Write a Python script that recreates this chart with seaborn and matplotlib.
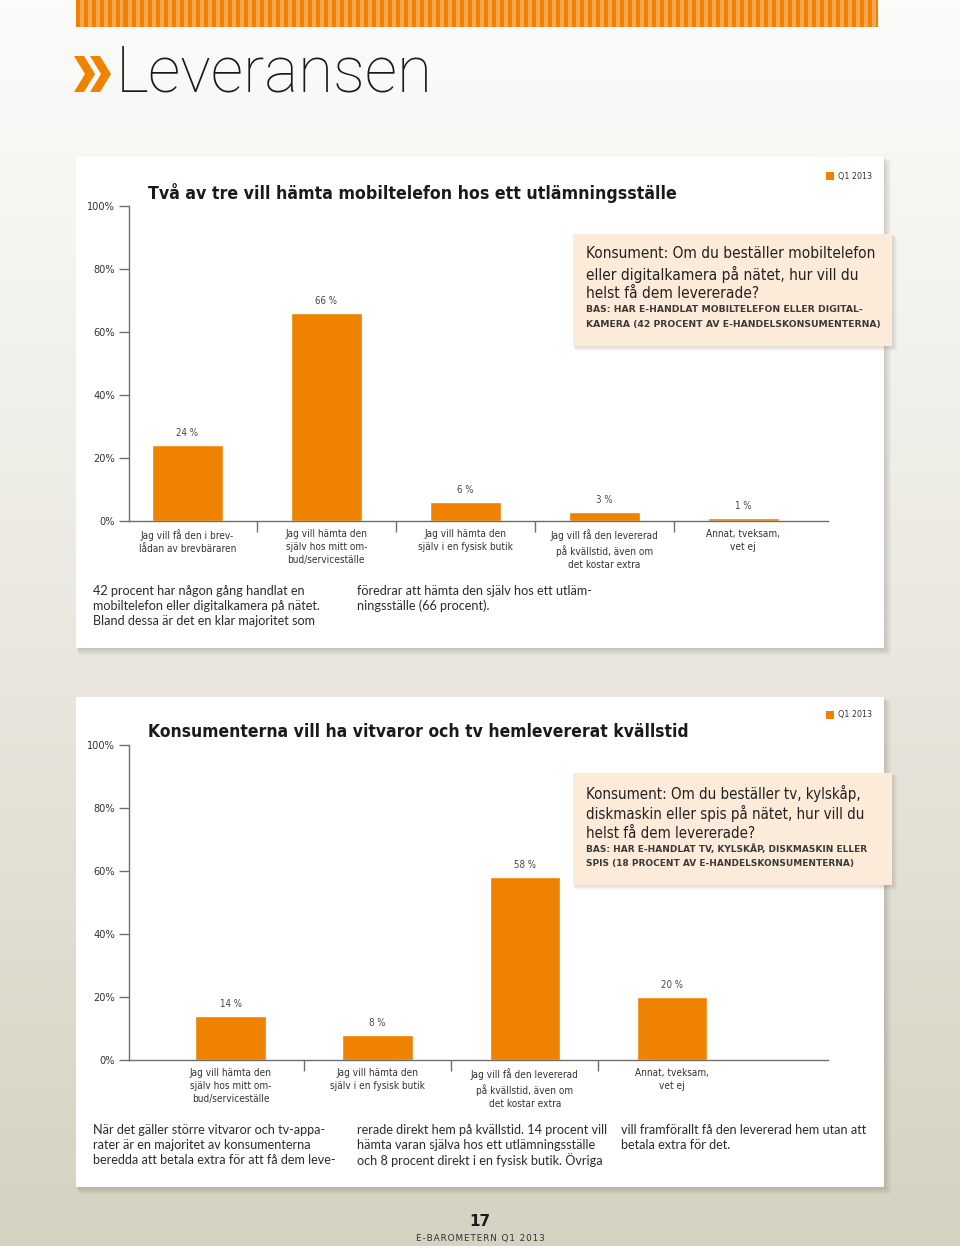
import numpy as np
import matplotlib
matplotlib.use("Agg")
import matplotlib.pyplot as plt
import seaborn as sns
from matplotlib import font_manager
from matplotlib.patches import Rectangle, Polygon

sns.set_theme(style="white")

# pick the narrowest font family that is installed
_fonts = font_manager.fontManager.ttflist
_names = {f.name for f in _fonts}
if 'Liberation Sans Narrow' in _names:
    NARROW, STRETCH = 'Liberation Sans Narrow', 'normal'
elif any(f.name == 'DejaVu Sans' and f.stretch == 'condensed' for f in _fonts):
    NARROW, STRETCH = 'DejaVu Sans', 'condensed'
else:
    NARROW, STRETCH = 'Roboto', 'normal'
plt.rcParams['font.family'] = [NARROW, 'DejaVu Sans']
plt.rcParams['font.stretch'] = STRETCH

# --- data -------------------------------------------------------------
cats1 = ["Jag vill få den i brev-\nlådan av brevbäraren",
         "Jag vill hämta den\nsjälv hos mitt om-\nbud/serviceställe",
         "Jag vill hämta den\nsjälv i en fysisk butik",
         "Jag vill få den levererad\npå kvällstid, även om\ndet kostar extra",
         "Annat, tveksam,\nvet ej"]
vals1 = [24, 66, 6, 3, 1]

cats2 = ["Jag vill hämta den\nsjälv hos mitt om-\nbud/serviceställe",
         "Jag vill hämta den\nsjälv i en fysisk butik",
         "Jag vill få den levererad\npå kvällstid, även om\ndet kostar extra",
         "Annat, tveksam,\nvet ej"]
vals2 = [14, 8, 58, 20]

yticks = [0, 20, 40, 60, 80, 100]
ytick_labels = [f"{t}%" for t in yticks]

title1 = "Två av tre vill hämta mobiltelefon hos ett utlämningsställe"
title2 = "Konsumenterna vill ha vitvaror och tv hemlevererat kvällstid"
question1 = ["Konsument: Om du beställer mobiltelefon",
             "eller digitalkamera på nätet, hur vill du",
             "helst få dem levererade?"]
bas1 = ["BAS: HAR E-HANDLAT MOBILTELEFON ELLER DIGITAL-",
        "KAMERA (42 PROCENT AV E-HANDELSKONSUMENTERNA)"]
question2 = ["Konsument: Om du beställer tv, kylskåp,",
             "diskmaskin eller spis på nätet, hur vill du",
             "helst få dem levererade?"]
bas2 = ["BAS: HAR E-HANDLAT TV, KYLSKÅP, DISKMASKIN ELLER",
        "SPIS (18 PROCENT AV E-HANDELSKONSUMENTERNA)"]
body1 = [["42 procent har någon gång handlat en",
          "mobiltelefon eller digitalkamera på nätet.",
          "Bland dessa är det en klar majoritet som"],
         ["föredrar att hämta den själv hos ett utläm-",
          "ningsställe (66 procent)."]]
body2 = [["När det gäller större vitvaror och tv-appa-",
          "rater är en majoritet av konsumenterna",
          "beredda att betala extra för att få dem leve-"],
         ["rerade direkt hem på kvällstid. 14 procent vill",
          "hämta varan själva hos ett utlämningsställe",
          "och 8 procent direkt i en fysisk butik. Övriga"],
         ["vill framförallt få den levererad hem utan att",
          "betala extra för det."]]

ORANGE = "#ef8200"
LIGHT_OR = "#f6a653"
AXIS = "#6e6e6e"
TXT = "#2b2b2b"

W, H = 960, 1246
fig = plt.figure(figsize=(W / 100, H / 100), dpi=100)
renderer = fig.canvas.get_renderer()


def fx(x):
    return x / W


def fy(y):
    return 1 - y / H


def size_for(s, width, **kw):
    # font size at which s is `width` pixels wide
    t = fig.text(0, 0, s, fontsize=10, **kw)
    w = t.get_window_extent(renderer).width
    t.remove()
    return 10 * width / w


def rect(x0, y0, x1, y1, **kw):
    fig.add_artist(Rectangle((fx(x0), fy(y1)), (x1 - x0) / W, (y1 - y0) / H,
                             transform=fig.transFigure, lw=0, zorder=-5, **kw))


def lines(x, y0, dy, rows, width, **kw):
    fs = size_for(rows[0], width, **kw)
    for i, s in enumerate(rows):
        fig.text(fx(x), fy(y0 + i * dy), s, va='center', fontsize=fs, **kw)


# background gradient
bg = fig.add_axes([0, 0, 1, 1], zorder=-10)
grad = np.linspace(0, 1, 256)[:, None]
top = np.array([251, 251, 250]) / 255
bot = np.array([214, 210, 193]) / 255
img = top + (bot - top) * grad[..., None] ** 1.1
bg.imshow(img, aspect='auto', extent=[0, 1, 0, 1])
bg.axis('off')

# stripe band at the top
rect(76, 0, 878, 27, color=ORANGE)
for x in np.arange(80, 876, 8):
    rect(x, 0, x + 3.5, 27, color=LIGHT_OR)

# page heading
for off in (0, 16):
    pts = [(74 + off, 56), (84 + off, 56), (95 + off, 74),
           (84 + off, 92), (74 + off, 92), (85 + off, 74)]
    fig.add_artist(Polygon([(fx(a), fy(b)) for a, b in pts], closed=True,
                           transform=fig.transFigure, color=ORANGE, lw=0))
fig.text(fx(116), fy(73), "Leveransen", va='center', ha='left',
         fontsize=size_for("Leveransen", 316, family='Roboto', fontweight=100,
                           fontstretch='normal'),
         family='Roboto', fontweight=100, fontstretch='normal', color='#1a1a1a')


def card(y0, y1):
    for i in range(1, 8):
        rect(76 + i * 0.4, y0 + i * 0.6, 884 + i, y1 + i, color='#5a574c', alpha=0.035)
    rect(76, y0, 884, y1, color='white')


def qbox(y0, y1, q, qw, bas):
    for i in range(1, 6):
        rect(573 + i * 0.4, y0 + i * 0.5, 892 + i, y1 + i, color='#5a574c', alpha=0.04)
    rect(573, y0, 892, y1, color='#fdebd9')
    lines(586, y0 + 20, 20, q, qw, color='#222222')
    lines(586, y0 + 76, 14.5, bas, 279, family='DejaVu Sans', fontstretch='normal',
          fontweight='semibold', color='#3a3a3a')


tick_fs = size_for("100%", 28)
cat_fs = size_for("Jag vill få den i brev-", 92)
val_fs = size_for("66 %", 22)
body_fs = size_for(body1[0][0], 211, family='Lato', fontstretch='normal')
cat_ls = 13.5 / (cat_fs * 100 / 72)


def chart(top_y, zero_y, cats, vals, xlim, width, title, tw, q, qw, bas, body):
    ax = fig.add_axes([fx(129), fy(zero_y), (828 - 129) / W, (zero_y - top_y) / H])
    ax.set_facecolor('none')
    sns.barplot(x=cats, y=vals, color=ORANGE, saturation=1, width=width, ax=ax)
    ax.bar_label(ax.containers[0], labels=[f"{v} %" for v in vals], padding=5,
                 fontsize=val_fs, color='#444444')
    ax.set_xlim(*xlim)
    ax.set_ylim(0, 100)
    ax.set_yticks(yticks)
    ax.set_yticklabels(ytick_labels, fontsize=tick_fs, color='#333333')
    # separators between categories
    ax.set_xticks(np.arange(len(cats) - 1) + 0.5, minor=True)
    ax.tick_params(axis='y', left=True, length=7, width=1, color=AXIS, pad=3)
    ax.tick_params(axis='x', which='major', length=0, pad=6, labelsize=cat_fs,
                   labelcolor='#333333')
    ax.tick_params(axis='x', which='minor', bottom=True, length=8, width=1, color=AXIS)
    ax.set_xlabel('')
    ax.set_ylabel('')
    for side in ('top', 'right'):
        ax.spines[side].set_visible(False)
    for side in ('left', 'bottom'):
        ax.spines[side].set_color(AXIS)
        ax.spines[side].set_linewidth(1)
    for lbl in ax.get_xticklabels():
        lbl.set_linespacing(cat_ls)

    fig.text(fx(148), fy(top_y - 13), title, fontweight='bold', color='#1a1a1a',
             va='center', fontsize=size_for(title, tw, fontweight='bold'))
    rect(826, top_y - 34, 834, top_y - 26, color=ORANGE)
    fig.text(fx(838), fy(top_y - 30), "Q1 2013", color='#333333', va='center',
             fontsize=size_for("Q1 2013", 34))
    qbox(top_y + 28, top_y + 140, q, qw, bas)
    for col, rows in enumerate(body):
        for i, s in enumerate(rows):
            fig.text(fx(93 + col * 264), fy(zero_y + 70 + i * 15), s, va='center',
                     fontsize=body_fs, family='Lato', fontstretch='normal', color=TXT)
    return ax


card(157, 648)
card(697, 1187)
chart(206, 521, cats1, vals1, (-0.42, 4.61), 0.51, title1, 524, question1, 290, bas1, body1)
chart(745, 1060, cats2, vals2, (-0.69, 4.06), 0.48, title2, 537, question2, 275, bas2, body2)

# footer
fig.text(0.5, fy(1221), "17", ha='center', va='center', fontsize=11,
         fontweight='bold', family='DejaVu Sans', fontstretch='normal', color='#1a1a1a')
foot = "\u200a".join("E-BAROMETERN Q1 2013")
fig.text(0.5, fy(1238), foot, ha='center', va='center', color='#333333',
         family='DejaVu Sans', fontstretch='normal',
         fontsize=size_for(foot, 128, family='DejaVu Sans', fontstretch='normal'))

fig.savefig("out.png", dpi=100)
